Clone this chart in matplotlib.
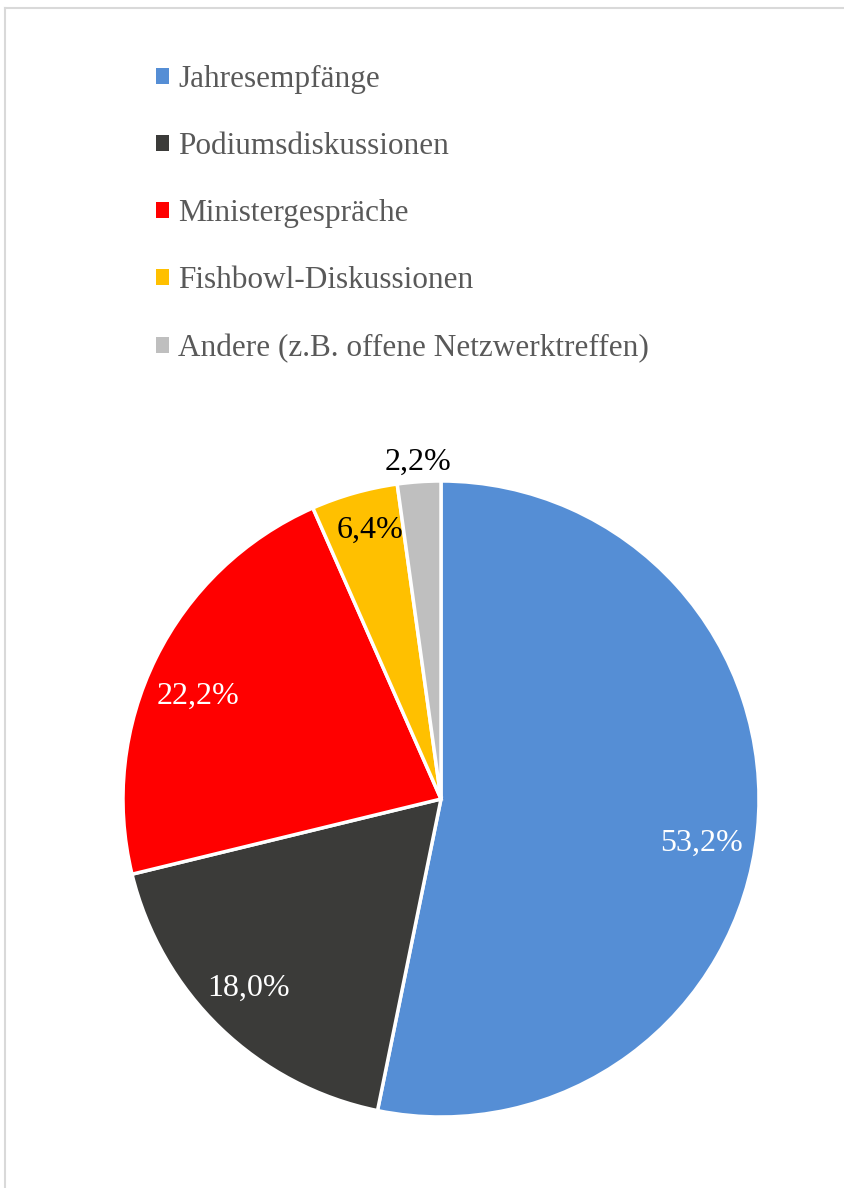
import matplotlib
matplotlib.use("Agg")
import matplotlib.pyplot as plt
from matplotlib.lines import Line2D
import numpy as np

categories = ["Jahresempfänge", "Podiumsdiskussionen", "Ministergespräche",
              "Fishbowl-Diskussionen", "Andere (z.B. offene Netzwerktreffen)"]
# wedge sizes as drawn in the picture (percent)
shares = [53.2, 18.0, 22.2, 4.4, 2.2]
# labels as printed on the chart
pct_labels = ["53,2%", "18,0%", "22,2%", "6,4%", "2,2%"]
colors = ["#558ED5", "#3B3B39", "#FF0000", "#FFC000", "#BFBFBF"]
label_colors = ["white", "white", "white", "black", "black"]
# label placement: radius fraction and angle nudge (deg) from wedge middle
label_dist = [0.83, 0.85, 0.83, 0.875, 1.06]
label_nudge = [-3.8, -1.6, 3.4, -1.0, 0.0]

plt.rcParams['font.family'] = ['Liberation Serif', 'DejaVu Serif']

fig = plt.figure(figsize=(8.45, 11.88), dpi=100)
W, H = 845, 1188

cx, cy, r = 441, 799, 318
ax = fig.add_axes([(cx - r) / W, (H - cy - r) / H, 2 * r / W, 2 * r / H])
wedges, _ = ax.pie(shares, colors=colors, startangle=90, counterclock=False,
                   wedgeprops=dict(edgecolor="white", linewidth=2.5))
ax.set_xlim(-1, 1)
ax.set_ylim(-1, 1)
ax.set_aspect("equal")
ax.axis("off")

for w, txt, c, d, n in zip(wedges, pct_labels, label_colors, label_dist, label_nudge):
    ang = np.deg2rad((w.theta1 + w.theta2) / 2 + n)
    ax.text(d * np.cos(ang), d * np.sin(ang), txt, ha="center", va="center",
            color=c, fontsize=23, clip_on=False)

fig.legend(wedges, categories, loc="upper left",
           bbox_to_anchor=(156 / W, 1 - 65 / H), frameon=False,
           fontsize=22.5, labelcolor="#595959", handlelength=0.42,
           handleheight=0.42, handletextpad=0.3, labelspacing=1.22,
           borderpad=0, borderaxespad=0)
for h in fig.legends[0].legend_handles:
    h.set_edgecolor("none")

# chart border (only top and left edges fall inside the image)
fig.add_artist(Line2D([5 / W, 1], [1 - 8 / H, 1 - 8 / H], transform=fig.transFigure,
                      color="#D9D9D9", linewidth=1.5))
fig.add_artist(Line2D([5 / W, 5 / W], [0, 1 - 8 / H], transform=fig.transFigure,
                      color="#D9D9D9", linewidth=1.5))

fig.savefig("out.png", dpi=100, facecolor="white")
